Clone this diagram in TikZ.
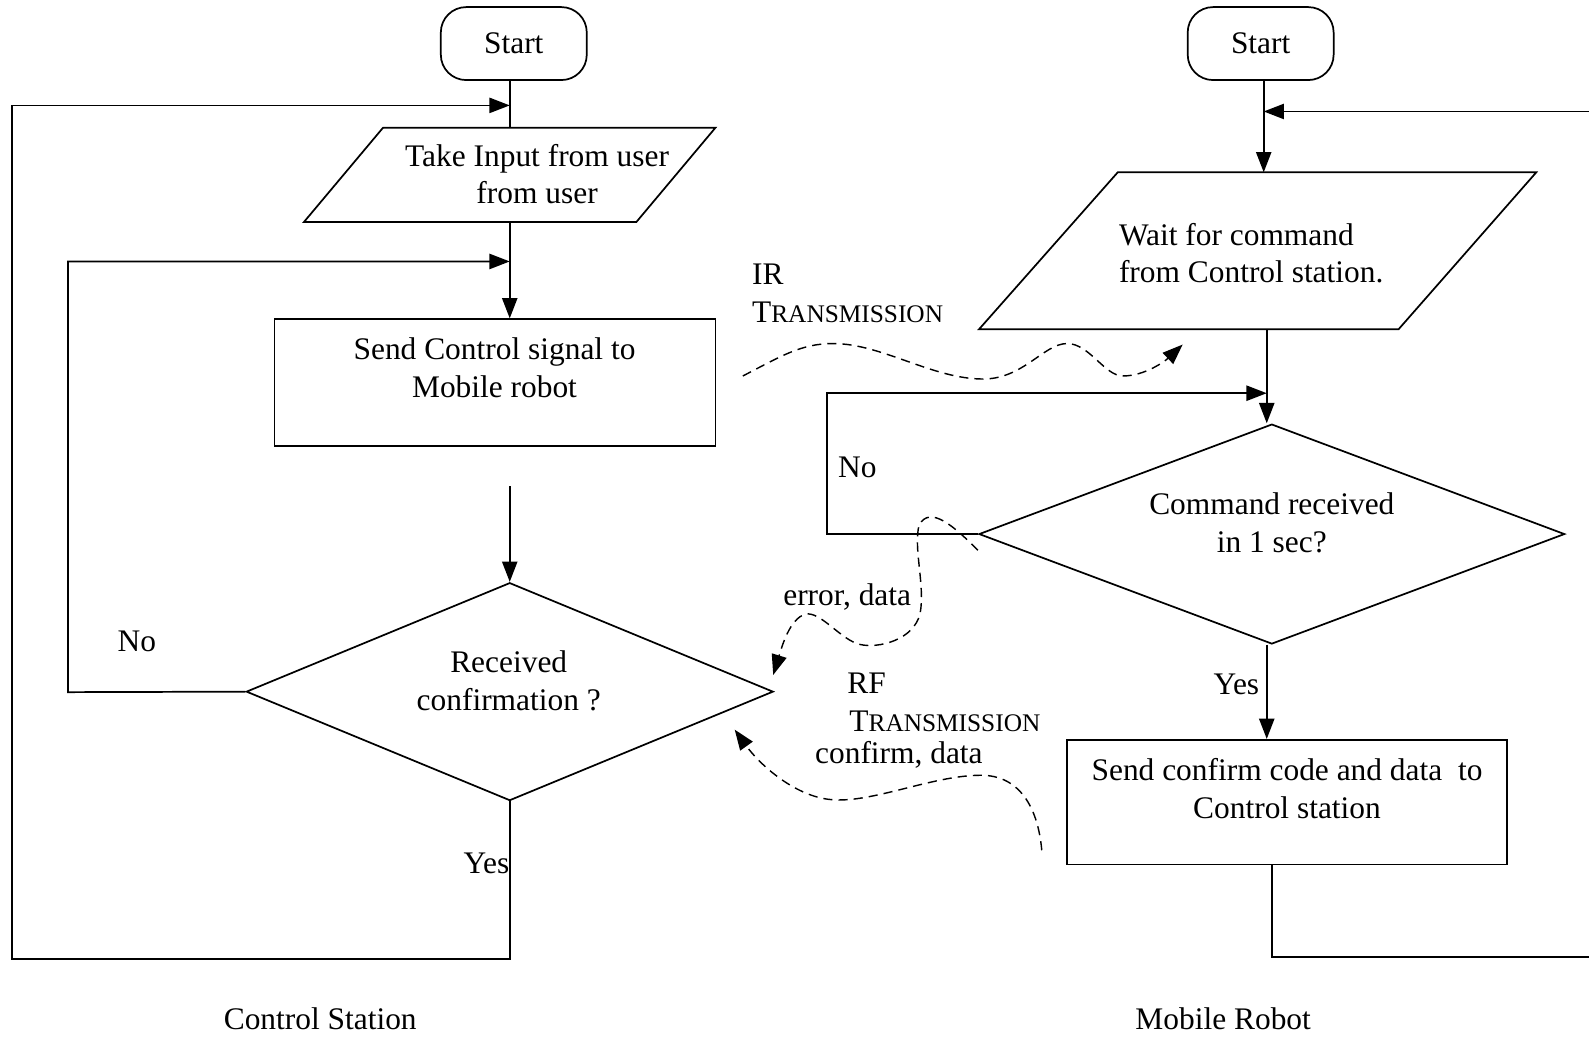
\documentclass[tikz,border=0pt]{standalone}
\usepackage{fontspec}
\setmainfont{Liberation Serif}
\usetikzlibrary{arrows.meta,shapes.geometric}
\newcommand{\transm}{T{\fontsize{25}{30}\selectfont RANSMISSION}}
\begin{document}
\begin{tikzpicture}[x=1pt,y=-1pt,
  every node/.style={font=\fontsize{31}{37}\selectfont, inner sep=0pt},
  ln/.style={line width=1.7pt, line join=miter},
  arr/.style={ln, -{Triangle[length=20pt,width=15pt]}},
  darr/.style={line width=1.4pt, dash pattern=on 9pt off 6pt, -{Triangle[length=20pt,width=15pt]}},
  term/.style={draw, line width=1.7pt, rounded corners=25pt, minimum width=144pt, minimum height=72pt},
  dia/.style={draw, line width=1.7pt, diamond, aspect=2.4},
  txt/.style={align=center}
]
\useasboundingbox (0,0) rectangle (1568,1023);

% ---------------- Control station ----------------
\node[term] (s1) at (507,43) {};
\node[txt] (s1t) at (507,43) {Start};

\coordinate (p1a) at (378,126);
\coordinate (p1b) at (706,126);
\coordinate (p1c) at (628,219);
\coordinate (p1d) at (300,219);
\draw[ln] (p1a) -- (p1b) -- (p1c) -- (p1d) -- cycle;
\coordinate (p1top) at (503,126);
\coordinate (p1bot) at (503,219);
\node[txt] (p1t) at (530,172) {Take Input from user\\from user};

\node[draw, line width=1.7pt, minimum width=435pt, minimum height=125pt] (r1) at (488.5,377.5) {};
\node[txt] (r1t) at (488,363) {Send Control signal to\\Mobile robot};

\node[dia, minimum width=520pt, minimum height=215pt] (d1) at (503,682.5) {};
\node[txt] (d1t) at (502,672) {Received\\confirmation ?};

\coordinate (j1) at (503,104);
\coordinate (j2) at (503,258);
\coordinate (g1) at (503,480);
\coordinate (b1) at (503,946);
\coordinate (c1) at (12,946);
\coordinate (c2) at (12,104);
\coordinate (c3) at (67,683);
\coordinate (c4) at (67,258);

\draw[ln] (s1.south -| p1top) -- (p1top);
\draw[arr] (p1bot) -- (p1bot |- r1.north);
\draw[arr] (g1) -- (d1.north);
\draw[arr] (d1.south) -- (b1) -- (c1) -- (c2) -- (j1);
\draw[arr] (d1.west) -- (c3) -- (c4) -- (j2);

\node (no1) at (135,633) {No};
\node (yes1) at (480,852) {Yes};

% ---------------- Mobile robot ----------------
\node[term] (s2) at (1244,43) {};
\node[txt] (s2t) at (1244,43) {Start};

\coordinate (p2a) at (1103,170);
\coordinate (p2b) at (1516,170);
\coordinate (p2c) at (1380,325);
\coordinate (p2d) at (966,325);
\draw[ln] (p2a) -- (p2b) -- (p2c) -- (p2d) -- cycle;
\coordinate (p2top) at (1247,170);
\coordinate (p2bot) at (1250,325);
\node[align=left, anchor=west] (p2t) at (1104,250) {Wait for command\\from Control station.};

\node[dia, minimum width=578pt, minimum height=217pt] (d2) at (1255,527) {};
\node[txt] (d2t) at (1255,516) {Command received\\in 1 sec?};

\node[draw, line width=1.7pt, minimum width=434pt, minimum height=123pt] (r2) at (1270,791.5) {};
\node[txt] (r2t) at (1270,778) {Send confirm code and data~~to\\Control station};

\coordinate (k1) at (1247,110);
\coordinate (e1) at (1568,110);
\coordinate (k2) at (1250,388);
\coordinate (m1) at (816,527);
\coordinate (m2) at (816,388);
\coordinate (rb) at (1255,853);
\coordinate (rb2) at (1255,944);
\coordinate (e2) at (1568,944);
\coordinate (d2b) at (1250,636);

\draw[arr] (s2.south -| p2top) -- (p2top);
\draw[arr] (e1) -- (k1);
\draw[arr] (p2bot) -- (d2.north -| p2bot);
\draw[arr] (d2.west) -- (m1) -- (m2) -- (k2);
\draw[arr] (d2b) -- (d2b |- r2.north);
\draw[ln] (rb) -- (rb2) -- (e2);

\node (no2) at (846,461) {No};
\node (yes2) at (1220,675) {Yes};

% ---------------- transmissions ----------------
\node[anchor=west] (irl) at (742,271) {IR};
\node[anchor=west] (irt) at (742,308) {\transm};
\coordinate (irs) at (733,371);
\coordinate (ire) at (1167,340);
\draw[darr] (irs) .. controls (770,352) and (790,339) .. (822,339)
  .. controls (870,339) and (920,374) .. (970,374)
  .. controls (1010,374) and (1030,339) .. (1053,339)
  .. controls (1075,339) and (1090,371) .. (1108,371)
  .. controls (1130,371) and (1150,356) .. (ire);

\node (errl) at (836,589) {error, data};
\coordinate (ers) at (965,543);
\coordinate (ere) at (763,666);
\draw[darr] (ers) .. controls (942,520) and (918,498) .. (907,518)
  .. controls (901,540) and (913,578) .. (908,605)
  .. controls (902,632) and (866,640) .. (849,636)
  .. controls (830,632) and (810,603) .. (795,606)
  .. controls (779,610) and (771,640) .. (ere);

\node[anchor=west] (rfl) at (836,674) {RF};
\node[anchor=west] (rft) at (838,712) {\transm};
\node (cfl) at (887,745) {confirm, data};
\coordinate (rfs) at (1028,839);
\coordinate (rfe) at (725,720);
\draw[darr] (rfs) .. controls (1024,795) and (1005,765) .. (968,765)
  .. controls (920,765) and (860,793) .. (820,789)
  .. controls (785,786) and (750,755) .. (rfe);

% ---------------- captions ----------------
\node (cap1) at (316,1005) {Control Station};
\node (cap2) at (1207,1005) {Mobile Robot};
\end{tikzpicture}
\end{document}
